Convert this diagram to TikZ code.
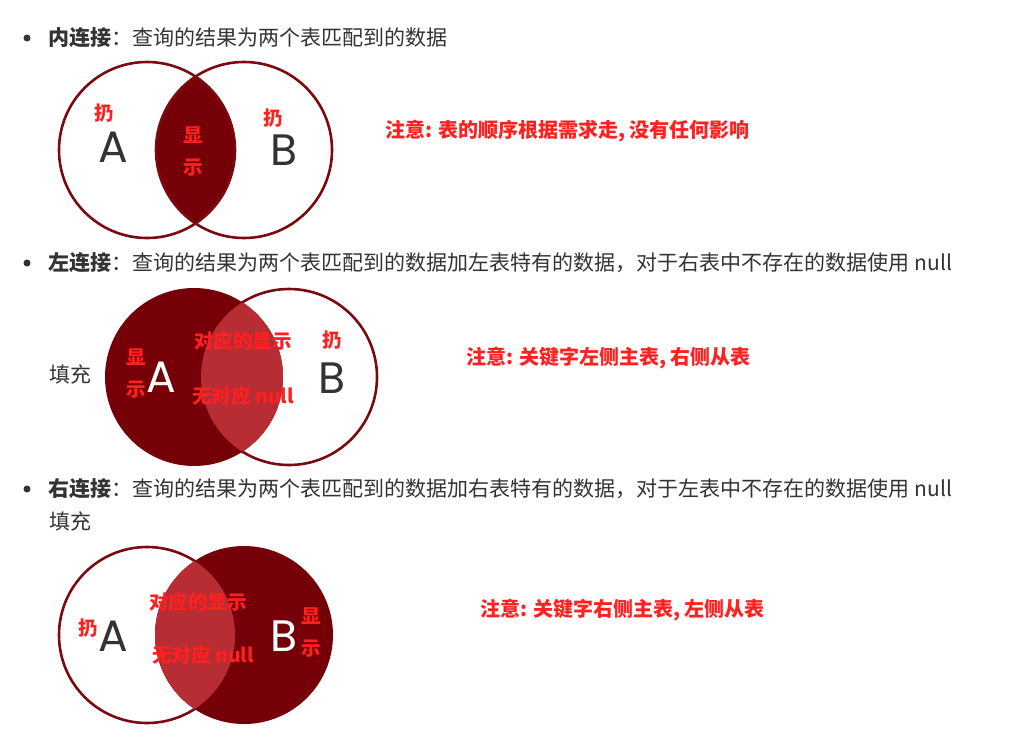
\documentclass[tikz,border=0pt]{standalone}
\usepackage{fontspec}
\setmainfont{Noto Sans CJK SC}
\newfontfamily\letterfont{Poppins}
\usetikzlibrary{positioning}
\definecolor{ringred}{HTML}{7B0A10}
\definecolor{darkred}{HTML}{760008}
\definecolor{lensred}{HTML}{B82C34}
\definecolor{labelred}{HTML}{FF2020}
\definecolor{bodygray}{HTML}{333333}

\begin{document}
\begin{tikzpicture}[x=1pt, y=-1pt,
  ring/.style={draw=ringred, line width=2.6pt},
  letter/.style={font=\letterfont\fontsize{44}{44}\selectfont, inner sep=0pt},
  tag/.style={text=labelred, font=\bfseries\fontsize{19.5}{32}\selectfont, align=center, inner sep=0pt},
  note/.style={text=labelred, font=\bfseries\fontsize{20}{24}\selectfont, anchor=west, inner sep=0pt},
  body/.style={text=bodygray, font=\fontsize{21}{25}\selectfont, anchor=west, inner sep=0pt},
  dot/.style={circle, fill=bodygray, inner sep=0pt, minimum size=7pt}]
  \useasboundingbox[fill=white] (0,0) rectangle (1024,747);

  % headers
  \node[dot] (b1) at (27,38) {};
  \node[body, right=18pt of b1] (h1) {{\bfseries 内连接}：查询的结果为两个表匹配到的数据};
  \node[dot] (b2) at (27,263) {};
  \node[body, right=18pt of b2] (h2) {{\bfseries 左连接}：查询的结果为两个表匹配到的数据加左表特有的数据，对于右表中不存在的数据使用 null};
  \node[dot] (b3) at (27,489) {};
  \node[body, right=18pt of b3] (h3) {{\bfseries 右连接}：查询的结果为两个表匹配到的数据加右表特有的数据，对于左表中不存在的数据使用 null};
  \node[body] (h3b) at (49,521) {填充};

  % inner join
  \coordinate (ia) at (147,150);
  \coordinate (ib) at (244,150);
  \begin{scope}
    \clip (ia) circle[radius=88pt];
    \fill[darkred] (ib) circle[radius=88pt];
  \end{scope}
  \draw[ring] (ia) circle[radius=88pt];
  \draw[ring] (ib) circle[radius=88pt];
  \node[tag] (ia1) at (104,113) {扔};
  \node[letter, text=bodygray] (iA) at (113,147) {A};
  \node[tag] (iab) at (193,152) {显\\示};
  \node[tag] (ib1) at (273,118) {扔};
  \node[letter, text=bodygray] (iB) at (284,150) {B};
  \node[note] (n1) at (385,131) {注意: 表的顺序根据需求走, 没有任何影响};

  % left join
  \coordinate (la) at (194,377);
  \coordinate (lb) at (289,377);
  \draw[ring, fill=white] (lb) circle[radius=88pt];
  \fill[darkred] (la) circle[radius=89pt];
  \begin{scope}
    \clip (la) circle[radius=89pt];
    \fill[lensred] (lb) circle[radius=88pt];
  \end{scope}
  \node[body] (lfill) at (49,374) {填充};
  \node[tag] (la1) at (136,374) {显\\示};
  \node[letter, text=white] (lA) at (161,377) {A};
  \node[tag] (lab1) at (243,341) {对应的显示};
  \node[tag] (lab2) at (243,396) {无对应 null};
  \node[tag] (lb1) at (332,340) {扔};
  \node[letter, text=bodygray] (lB) at (332,378) {B};
  \node[note] (n2) at (466,358) {注意: 关键字左侧主表, 右侧从表};

  % right join
  \coordinate (ra) at (147,635);
  \coordinate (rb) at (244,635);
  \draw[ring, fill=white] (ra) circle[radius=88pt];
  \fill[darkred] (rb) circle[radius=89pt];
  \begin{scope}
    \clip (rb) circle[radius=89pt];
    \fill[lensred] (ra) circle[radius=88pt];
  \end{scope}
  \node[tag] (ra1) at (88,628) {扔};
  \node[letter, text=bodygray] (rA) at (113,636) {A};
  \node[tag] (rab1) at (198,602) {对应的显示};
  \node[tag] (rab2) at (203,655) {无对应 null};
  \node[letter, text=white] (rB) at (284,636) {B};
  \node[tag] (rb1) at (311,633) {显\\示};
  \node[note] (n3) at (480,610) {注意: 关键字右侧主表, 左侧从表};
\end{tikzpicture}
\end{document}
